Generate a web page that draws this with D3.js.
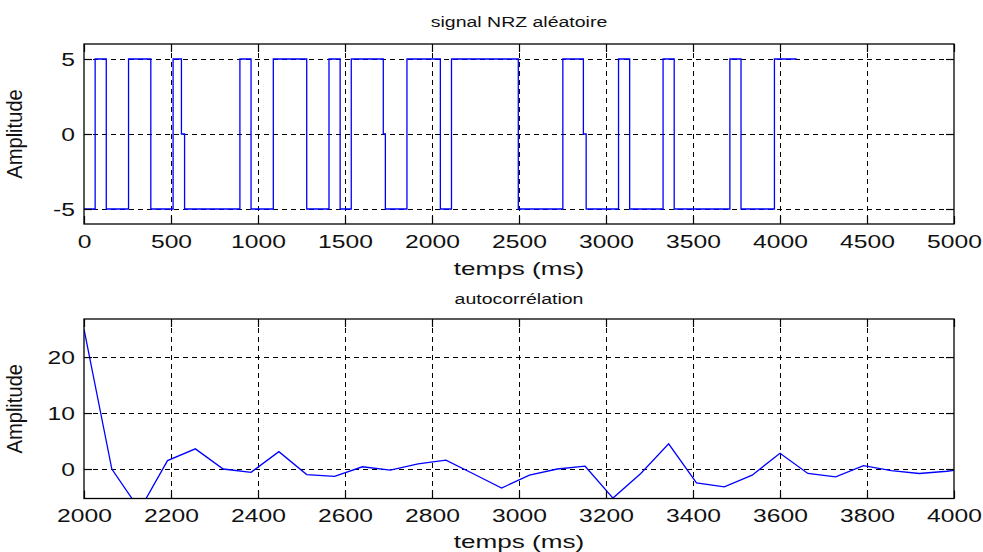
<!DOCTYPE html>
<html><head><meta charset="utf-8">
<script src="https://cdn.jsdelivr.net/npm/d3@7"></script>
<style>body{margin:0;background:#fff} svg{display:block}</style>
</head><body>
<script>
// ---- data ----
const nrzTimes  = [0,64,128,256,384,512,560,578,896,960,1088,1280,1408,1472,1536,1720,1732,1856,2048,2112,2496,2752,2870,2886,3072,3136,3328,3392,3712,3776,3968,4096];
const nrzLevels = [-5,5,-5,5,-5,5,0,-5,5,-5,5,-5,5,-5,5,0,-5,5,-5,5,-5,5,0,-5,5,-5,5,-5,5,-5,5,5];
const topXTicks = [0,500,1000,1500,2000,2500,3000,3500,4000,4500,5000];
const topYTicks = [-5,0,5];

const acTimes  = [2000,2064,2128,2192,2256,2320,2384,2448,2512,2576,2640,2704,2768,2832,2896,2960,3024,3088,3152,3216,3280,3344,3408,3472,3536,3600,3664,3728,3792,3856,3920,3984,4048];
const acValues = [25,0,-7.3,1.5,3.6,0,-0.6,3.1,-1.0,-1.3,0.4,-0.2,0.9,1.6,-0.9,-3.4,-1.1,0.0,0.5,-5.2,-0.8,4.5,-2.5,-3.2,-1.1,2.8,-0.8,-1.4,0.6,-0.3,-0.8,-0.4,0.2];
const botXTicks = [2000,2200,2400,2600,2800,3000,3200,3400,3600,3800,4000];
const botYTicks = [0,10,20];

const titles = ["signal NRZ aléatoire","autocorrélation"];
const xLabel = "temps (ms)";
const yLabel = "Amplitude";

// ---- setup ----
const W = 983, H = 552;
const FONT = "'Liberation Sans', Arial, sans-serif";
const TXT = "#111";
const SX = 1.37, TS = 18;
const svg = d3.select("body").append("svg").attr("width", W).attr("height", H);

function stretchedText(g, x, y, str, anchor, size, sx, sy, rot) {
  return g.append("text")
    .attr("transform", `translate(${x},${y})` + (rot ? ` rotate(${rot})` : "") + ` scale(${sx},${sy})`)
    .attr("text-anchor", anchor)
    .attr("font-family", FONT)
    .attr("font-size", size)
    .attr("fill", TXT)
    .text(str);
}

function panel(cfg) {
  const {x, y, xTicks, yTicks, top, bottom, id} = cfg;
  const g = svg.append("g");
  const L = x.range()[0], R = x.range()[1];
  svg.append("clipPath").attr("id", id).append("rect")
    .attr("x", L).attr("y", top).attr("width", R - L).attr("height", bottom - top);
  const grid = g.append("g").attr("stroke", "#000").attr("stroke-width", 1).attr("stroke-dasharray", "5,4");
  grid.selectAll(".gx").data(xTicks.filter(d => x(d) > L + 1 && x(d) < R - 1)).join("line")
    .attr("x1", d => Math.round(x(d)) + 0.5).attr("x2", d => Math.round(x(d)) + 0.5)
    .attr("y1", top).attr("y2", bottom);
  grid.selectAll(".gy").data(yTicks.filter(d => y(d) > top + 1 && y(d) < bottom - 1)).join("line")
    .attr("y1", d => Math.round(y(d)) + 0.5).attr("y2", d => Math.round(y(d)) + 0.5)
    .attr("x1", L).attr("x2", R);
  return g;
}

function axes(g, x, y, xTicks, yTicks, top, bottom) {
  const L = x.range()[0], R = x.range()[1];
  const fmt = d => String(d).replace("\u2212", "-");
  const ax = g.append("g").attr("transform", `translate(0,${bottom})`)
    .call(d3.axisBottom(x).tickValues(xTicks).tickSize(-8).tickSizeOuter(0).tickFormat(fmt));
  const ax2 = g.append("g").attr("transform", `translate(0,${top})`)
    .call(d3.axisTop(x).tickValues(xTicks).tickSize(-8).tickSizeOuter(0).tickFormat(""));
  const ay = g.append("g").attr("transform", `translate(${L},0)`)
    .call(d3.axisLeft(y).tickValues(yTicks).tickSize(-8).tickSizeOuter(0).tickFormat(fmt));
  const ay2 = g.append("g").attr("transform", `translate(${R},0)`)
    .call(d3.axisRight(y).tickValues(yTicks).tickSize(-8).tickSizeOuter(0).tickFormat(""));
  [ax, ax2, ay, ay2].forEach(a => {
    a.select(".domain").remove();
    a.selectAll("line").attr("stroke", "#000").attr("stroke-width", 1.2);
  });
  ax.selectAll("text").attr("y", 24).attr("dy", null)
    .attr("font-family", FONT).attr("font-size", TS).attr("fill", TXT)
    .attr("transform", `scale(${SX},1)`);
  ay.selectAll("text").attr("x", -9 / SX).attr("dy", "0.36em")
    .attr("font-family", FONT).attr("font-size", TS).attr("fill", TXT)
    .attr("transform", `scale(${SX},1)`);
  g.append("rect").attr("x", L).attr("y", top).attr("width", R - L).attr("height", bottom - top)
    .attr("fill", "none").attr("stroke", "#000").attr("stroke-width", 1.3);
}

// ---- top panel ----
const L = 84, R = 954;
const t1 = 44, b1 = 224;
const x1 = d3.scaleLinear().domain([0, 5000]).range([L, R]);
const y1 = d3.scaleLinear().domain([-6, 6]).range([b1, t1]);
const g1 = panel({x: x1, y: y1, xTicks: topXTicks, yTicks: topYTicks, top: t1, bottom: b1, id: "c1"});
g1.append("path")
  .datum(nrzTimes.map((t, i) => [t, nrzLevels[i]]))
  .attr("clip-path", "url(#c1)")
  .attr("fill", "none").attr("stroke", "#0000ff").attr("stroke-width", 1.3)
  .attr("d", d3.line().x(d => x1(d[0])).y(d => y1(d[1])).curve(d3.curveStepAfter));
axes(g1, x1, y1, topXTicks, topYTicks, t1, b1);

// ---- bottom panel ----
const t2 = 319, b2 = 498.5;
const x2 = d3.scaleLinear().domain([2000, 4000]).range([L, R]);
const y2 = d3.scaleLinear().domain([-5.27, 26.8]).range([b2, t2]);
const g2 = panel({x: x2, y: y2, xTicks: botXTicks, yTicks: botYTicks, top: t2, bottom: b2, id: "c2"});
g2.append("path")
  .datum(acTimes.map((t, i) => [t, acValues[i]]))
  .attr("clip-path", "url(#c2)")
  .attr("fill", "none").attr("stroke", "#0000ff").attr("stroke-width", 1.3)
  .attr("d", d3.line().x(d => x2(d[0])).y(d => y2(d[1])));
axes(g2, x2, y2, botXTicks, botYTicks, t2, b2);

// ---- labels ----
const cx = (L + R) / 2;
stretchedText(svg, cx, 27, titles[0], "middle", 15, 1.3, 1);
stretchedText(svg, cx, 275, xLabel, "middle", TS, 1.45, 1);
stretchedText(svg, cx, 304, titles[1], "middle", 15, 1.3, 1);
stretchedText(svg, cx, 548, xLabel, "middle", TS, 1.45, 1);
stretchedText(svg, 22, (t1 + b1) / 2, yLabel, "middle", 18, 1.12, 1.25, -90);
stretchedText(svg, 22, (t2 + b2) / 2, yLabel, "middle", 18, 1.12, 1.25, -90);
</script>
</body></html>
